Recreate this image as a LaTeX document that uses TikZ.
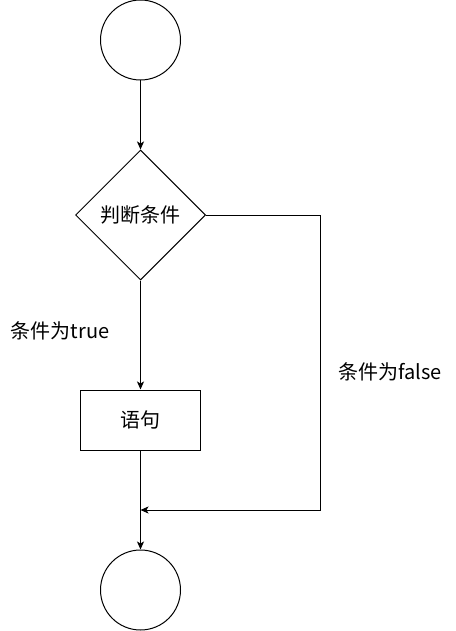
\documentclass[tikz,border=0pt]{standalone}
\usepackage{fontspec}
\setmainfont{Noto Sans CJK SC}
\usetikzlibrary{shapes.geometric,arrows.meta}

\begin{document}
\begin{tikzpicture}[x=1pt,y=-1pt,>={Stealth[length=8pt,width=7pt,inset=2pt]},line width=1pt]
  \tikzstyle{term}=[draw, circle, minimum size=80pt, inner sep=0pt]
  \tikzstyle{cond}=[draw, diamond, minimum width=130pt, minimum height=130pt, inner sep=0pt,
    font=\fontsize{20}{24}\selectfont]
  \tikzstyle{stmt}=[draw, minimum width=120pt, minimum height=60pt, inner sep=0pt,
    font=\fontsize{20}{24}\selectfont]
  \tikzstyle{lbl}=[inner sep=0pt, font=\fontsize{20}{24}\selectfont]

  \useasboundingbox (0,0) rectangle (455,631);

  \node[term] (start) at (140.5,40) {};
  \node[cond] (check) at (140.5,215) {判断条件};
  \node[stmt] (body) at (140.5,420) {语句};
  \node[term] (stop) at (140.5,590) {};

  \coordinate (falsetop) at (320,215);
  \coordinate (falsebot) at (320,510);
  \coordinate (merge) at (140.5,510);

  \node[lbl] (truelbl) at (60,331) {条件为true};
  \node[lbl] (falselbl) at (390,372) {条件为false};

  \draw[->] (start) -- (check);
  \draw[->] (check) -- (body);
  \draw[->] (body) -- (stop);
  \draw[->] (check.east) -- (falsetop) -- (falsebot) -- (merge);
\end{tikzpicture}
\end{document}
